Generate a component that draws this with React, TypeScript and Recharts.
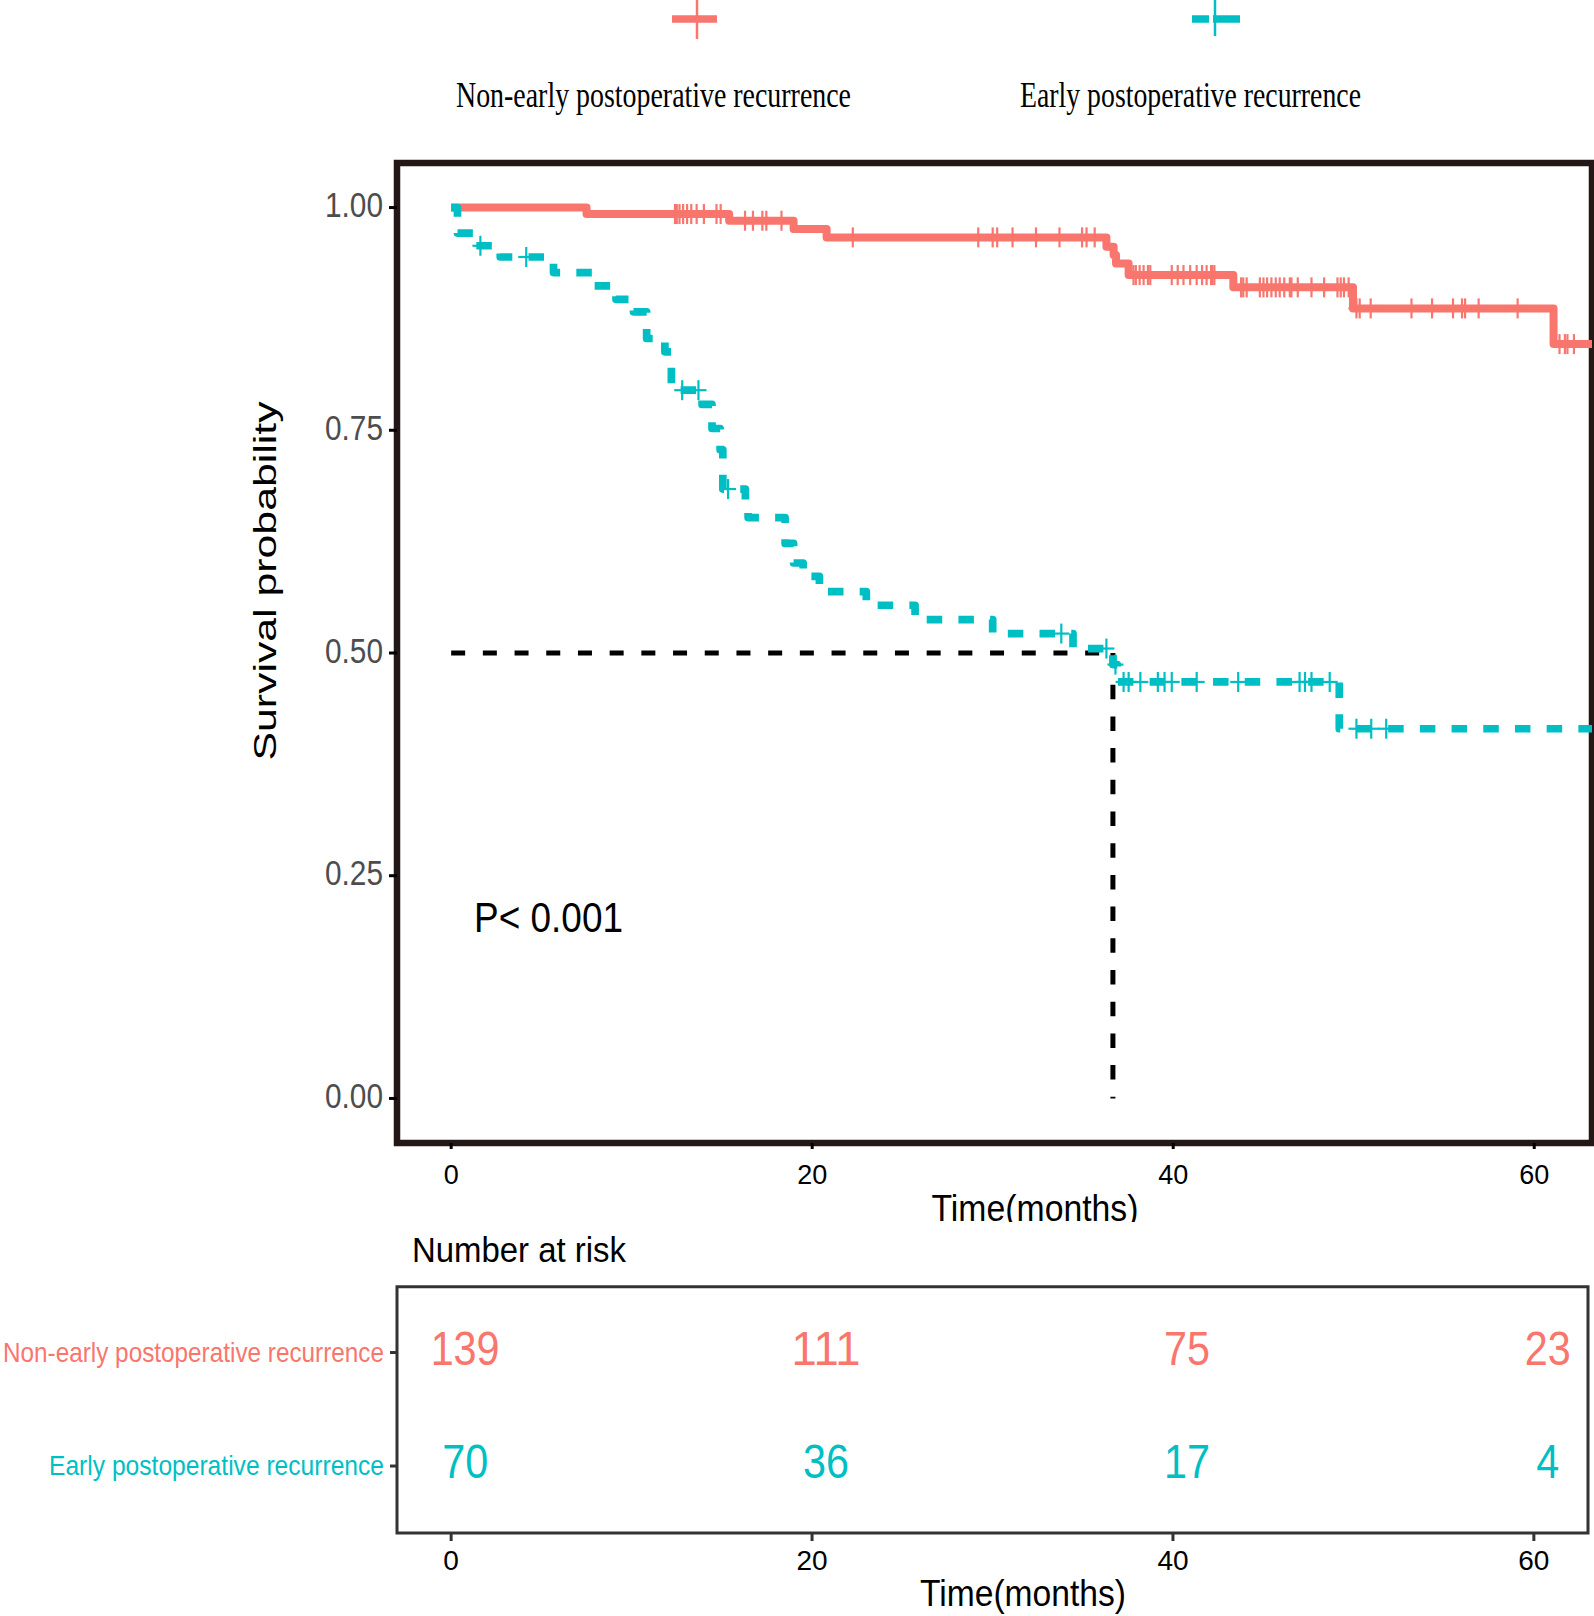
import React from 'react';
import { ComposedChart, Line, Scatter, XAxis, YAxis, ReferenceLine, ReferenceArea } from 'recharts';

const SANS = "'Liberation Sans', Arial, Helvetica, sans-serif";
const SERIF = "'Liberation Serif', 'Times New Roman', serif";

const GROUPS = ['Non-early postoperative recurrence', 'Early postoperative recurrence'];
const COLORS = ['#F8766D', '#00BFC4'];

const TIME_TICKS = [0, 20, 40, 60];
const SURV_TICKS = [0, 0.25, 0.5, 0.75, 1];

// Kaplan-Meier step points (time in months, survival probability)
const nonEarlyTimes = [0, 7.5, 15.4, 18.97, 20.8, 36.3, 36.7, 36.83, 37.53, 43.33, 49.96, 61.07, 63.2];
const nonEarlySurv = [1, 0.9927, 0.9852, 0.9758, 0.9665, 0.956, 0.9466, 0.9373, 0.9242, 0.9104, 0.8868, 0.8467, 0.8467];

const earlyTimes = [0, 0.35, 1.25, 2.72, 5.67, 7.84, 9.13, 10.1, 10.83, 11.84, 12.2, 13.9, 14.45, 14.9, 15.05, 16.3, 16.45, 18.5, 18.97, 19.5, 20.4, 23.0, 25.7, 30.0, 34.45, 36.66, 36.9, 49.2, 63.2];
const earlySurv = [1, 0.9714, 0.9571, 0.9445, 0.927, 0.912, 0.897, 0.883, 0.853, 0.838, 0.795, 0.779, 0.752, 0.728, 0.684, 0.668, 0.652, 0.623, 0.601, 0.586, 0.569, 0.5536, 0.5375, 0.5218, 0.505, 0.487, 0.4675, 0.415, 0.415];

// censoring times
const nonEarlyCensor = [12.4, 12.5, 12.65, 12.85, 13.07, 13.3, 13.6, 14.0, 14.7, 14.93,
  16.28, 16.72, 17.24, 17.46, 18.3, 22.25,
  29.2, 30.0, 30.25, 31.1, 32.4, 33.7, 34.95, 35.2, 35.65,
  37.8, 37.93, 38.14, 38.36, 38.6, 38.73, 39.92, 40.25, 40.57, 40.94, 41.3, 41.6, 41.85, 42.1, 42.17, 42.28,
  43.76, 43.88, 44.07, 44.8, 45.0, 45.2, 45.44, 45.68, 45.9, 46.15, 46.46, 46.55, 46.9, 47.66, 48.36, 49.1, 49.28, 49.46, 49.72,
  50.15, 50.33, 50.94, 53.2, 54.34, 55.5, 56.0, 56.17, 56.92, 59.08,
  61.4, 61.7, 61.84, 62.2];
const earlyCensor = [1.62, 4.16, 12.8, 13.7, 15.34, 33.8, 36.3, 36.8, 37.25, 37.53, 38.18, 39.15, 39.52, 39.92,
  41.3, 43.6, 47.0, 47.3, 47.66, 48.67, 50.15, 50.97, 51.8];

const MEDIAN_EARLY = 36.66;
const P_LABEL = 'P< 0.001';

const riskTimes = [0, 20, 40, 60];
const riskNonEarly = [139, 111, 75, 23];
const riskEarly = [70, 36, 17, 4];

const stepData = (times: number[], surv: number[]) => times.map((t, i) => ({ t, s: surv[i] }));
const survAt = (times: number[], surv: number[], t: number) => {
  let s = surv[0];
  for (let i = 0; i < times.length; i++) if (times[i] <= t) s = surv[i];
  return s;
};
const censorData = (c: number[], times: number[], surv: number[]) => c.map((t) => ({ t, s: survAt(times, surv, t) }));

const nonEarlyLine = stepData(nonEarlyTimes, nonEarlySurv);
const earlyLine = stepData(earlyTimes, earlySurv);
const nonEarlyMarks = censorData(nonEarlyCensor, nonEarlyTimes, nonEarlySurv);
const earlyMarks = censorData(earlyCensor, earlyTimes, earlySurv);

const riskRowsNonEarly = riskTimes.map((t, i) => ({ t, row: 1, n: riskNonEarly[i] }));
const riskRowsEarly = riskTimes.map((t, i) => ({ t, row: 0, n: riskEarly[i] }));

const plusShape = (color: string) => (props: any) => {
  const { cx, cy } = props;
  if (cx == null || cy == null) return <g />;
  return (
    <g stroke={color} strokeWidth={2.2}>
      <line x1={cx - 8} x2={cx + 8} y1={cy} y2={cy} />
      <line x1={cx} x2={cx} y1={cy - 10} y2={cy + 10} />
    </g>
  );
};

const countShape = (color: string) => (props: any) => {
  const { cx, cy, payload } = props;
  if (cx == null || cy == null) return <g />;
  const label = String(payload.n);
  return (
    <text x={cx + 14} y={cy + 12.3} textAnchor="middle" fontFamily={SANS} fontSize={48} fill={color}
      textLength={label.length * 23} lengthAdjust="spacingAndGlyphs">{label}</text>
  );
};

const SurvTick = (props: any) => {
  const { x, y, payload } = props;
  return (
    <text x={x} y={y + 9.5} textAnchor="end" fontFamily={SANS} fontSize={35} fill="#4D4D4D"
      textLength={58} lengthAdjust="spacingAndGlyphs">{Number(payload.value).toFixed(2)}</text>
  );
};

const MainTimeTick = (props: any) => {
  const { x, y, payload } = props;
  return (
    <text x={x} y={y + 32.5} textAnchor="middle" fontFamily={SANS} fontSize={27} fill="#000">{payload.value}</text>
  );
};

const TableTimeTick = (props: any) => {
  const { x, y, payload } = props;
  return (
    <text x={x} y={y + 27} textAnchor="middle" fontFamily={SANS} fontSize={28} fill="#000">{payload.value}</text>
  );
};

const RowTick = (props: any) => {
  const { x, y, payload } = props;
  const idx = payload.value === 1 ? 0 : 1;
  const len = idx === 0 ? 381 : 335;
  return (
    <text x={x} y={y + 9} textAnchor="end" fontFamily={SANS} fontSize={28} fill={COLORS[idx]}
      textLength={len} lengthAdjust="spacingAndGlyphs">{GROUPS[idx]}</text>
  );
};

export default function App() {
  return (
    <div style={{ position: 'absolute', left: 0, top: 0, width: 1594, height: 1616, background: '#fff', overflow: 'hidden' }}>
      <div style={{ position: 'absolute', left: 0, top: 0, width: 1594, height: 1222, overflow: 'hidden' }}>
        <ComposedChart width={1594} height={1222} margin={{ top: 163, right: 2, bottom: 19, left: 297 }}>
          <XAxis type="number" dataKey="t" domain={[-3, 63.2]} allowDataOverflow ticks={TIME_TICKS}
            axisLine={false} tickLine={{ stroke: '#000', strokeWidth: 3 }} tickSize={6} tickMargin={2}
            height={60} tick={<MainTimeTick />} interval={0} />
          <YAxis type="number" domain={[-0.05, 1.05]} allowDataOverflow ticks={SURV_TICKS}
            axisLine={false} tickLine={{ stroke: '#000', strokeWidth: 3 }} tickSize={8} tickMargin={6}
            width={100} tick={<SurvTick />} interval={0} />
          <ReferenceLine segment={[{ x: 0, y: 0.5 }, { x: MEDIAN_EARLY, y: 0.5 }]} stroke="#000" strokeWidth={5} strokeDasharray="14 17.7" />
          <ReferenceLine segment={[{ x: MEDIAN_EARLY, y: 0.5 }, { x: MEDIAN_EARLY, y: 0 }]} stroke="#000" strokeWidth={5} strokeDasharray="14.5 17.2" />
          <Line data={nonEarlyLine} dataKey="s" type="stepAfter" stroke={COLORS[0]} strokeWidth={8}
            dot={false} activeDot={false} isAnimationActive={false} strokeLinejoin="round" />
          <Line data={earlyLine} dataKey="s" type="stepAfter" stroke={COLORS[1]} strokeWidth={7.7}
            strokeDasharray="15.5 16.2" dot={false} activeDot={false} isAnimationActive={false} strokeLinejoin="round" />
          <Scatter data={nonEarlyMarks} dataKey="s" shape={plusShape(COLORS[0])} isAnimationActive={false} />
          <Scatter data={earlyMarks} dataKey="s" shape={plusShape(COLORS[1])} isAnimationActive={false} />
          <ReferenceArea x1={-3} x2={63.2} y1={-0.05} y2={1.05} fill="none" fillOpacity={0}
            stroke="#231815" strokeWidth={6.5} />
        </ComposedChart>
      </div>

      <div style={{ position: 'absolute', left: 0, top: 1240, width: 1594, height: 376 }}>
        <ComposedChart width={1594} height={376} margin={{ top: 46.7, right: 6, bottom: 33, left: 297 }}>
          <XAxis type="number" dataKey="t" domain={[-3, 63]} allowDataOverflow ticks={TIME_TICKS}
            axisLine={false} tickLine={{ stroke: '#333', strokeWidth: 3 }} tickSize={8} tickMargin={2}
            height={50} tick={<TableTimeTick />} interval={0} />
          <YAxis type="number" domain={[-0.59, 1.58]} allowDataOverflow ticks={[0, 1]}
            axisLine={false} tickLine={{ stroke: '#333', strokeWidth: 3 }} tickSize={7} tickMargin={6}
            width={100} tick={<RowTick />} interval={0} />
          <ReferenceArea x1={-3} x2={63} y1={-0.59} y2={1.58} fill="none" fillOpacity={0}
            stroke="#333" strokeWidth={3} />
          <Scatter data={riskRowsNonEarly} dataKey="row" shape={countShape(COLORS[0])} isAnimationActive={false} />
          <Scatter data={riskRowsEarly} dataKey="row" shape={countShape(COLORS[1])} isAnimationActive={false} />
        </ComposedChart>
      </div>

      <svg width={1594} height={1616} style={{ position: 'absolute', left: 0, top: 0, pointerEvents: 'none' }}>
        <defs>
          <clipPath id="topTitleClip"><rect x={0} y={0} width={1594} height={1222} /></clipPath>
        </defs>
        {/* legend */}
        <line x1={672} x2={717} y1={19} y2={19} stroke={COLORS[0]} strokeWidth={7.7} />
        <line x1={697} x2={697} y1={0} y2={39} stroke={COLORS[0]} strokeWidth={2.5} />
        <line x1={1192} x2={1240} y1={19} y2={19} stroke={COLORS[1]} strokeWidth={7.7} strokeDasharray="17 4 30" />
        <line x1={1215} x2={1215} y1={0} y2={36} stroke={COLORS[1]} strokeWidth={2.5} />
        <text x={653.5} y={107} textAnchor="middle" fontFamily={SERIF} fontSize={36} fill="#000"
          textLength={395} lengthAdjust="spacingAndGlyphs">{GROUPS[0]}</text>
        <text x={1190.5} y={107} textAnchor="middle" fontFamily={SERIF} fontSize={36} fill="#000"
          textLength={341} lengthAdjust="spacingAndGlyphs">{GROUPS[1]}</text>

        {/* y axis title */}
        <g transform="translate(276,581) scale(0.75,1) rotate(-90)">
          <text x={0} y={0} textAnchor="middle" fontFamily={SANS} fontSize={42.8} fill="#000">Survival probability</text>
        </g>

        <text x={474} y={931.5} fontFamily={SANS} fontSize={43} fill="#000" textLength={149} lengthAdjust="spacingAndGlyphs">{P_LABEL}</text>

        <g clipPath="url(#topTitleClip)">
          <text x={1035} y={1221} textAnchor="middle" fontFamily={SANS} fontSize={36} fill="#000"
            textLength={207} lengthAdjust="spacingAndGlyphs">Time(months)</text>
        </g>

        <text x={412} y={1261.7} fontFamily={SANS} fontSize={35} fill="#000" textLength={214} lengthAdjust="spacingAndGlyphs">Number at risk</text>

        <text x={1023} y={1606} textAnchor="middle" fontFamily={SANS} fontSize={36} fill="#000"
          textLength={206} lengthAdjust="spacingAndGlyphs">Time(months)</text>
      </svg>
    </div>
  );
}
